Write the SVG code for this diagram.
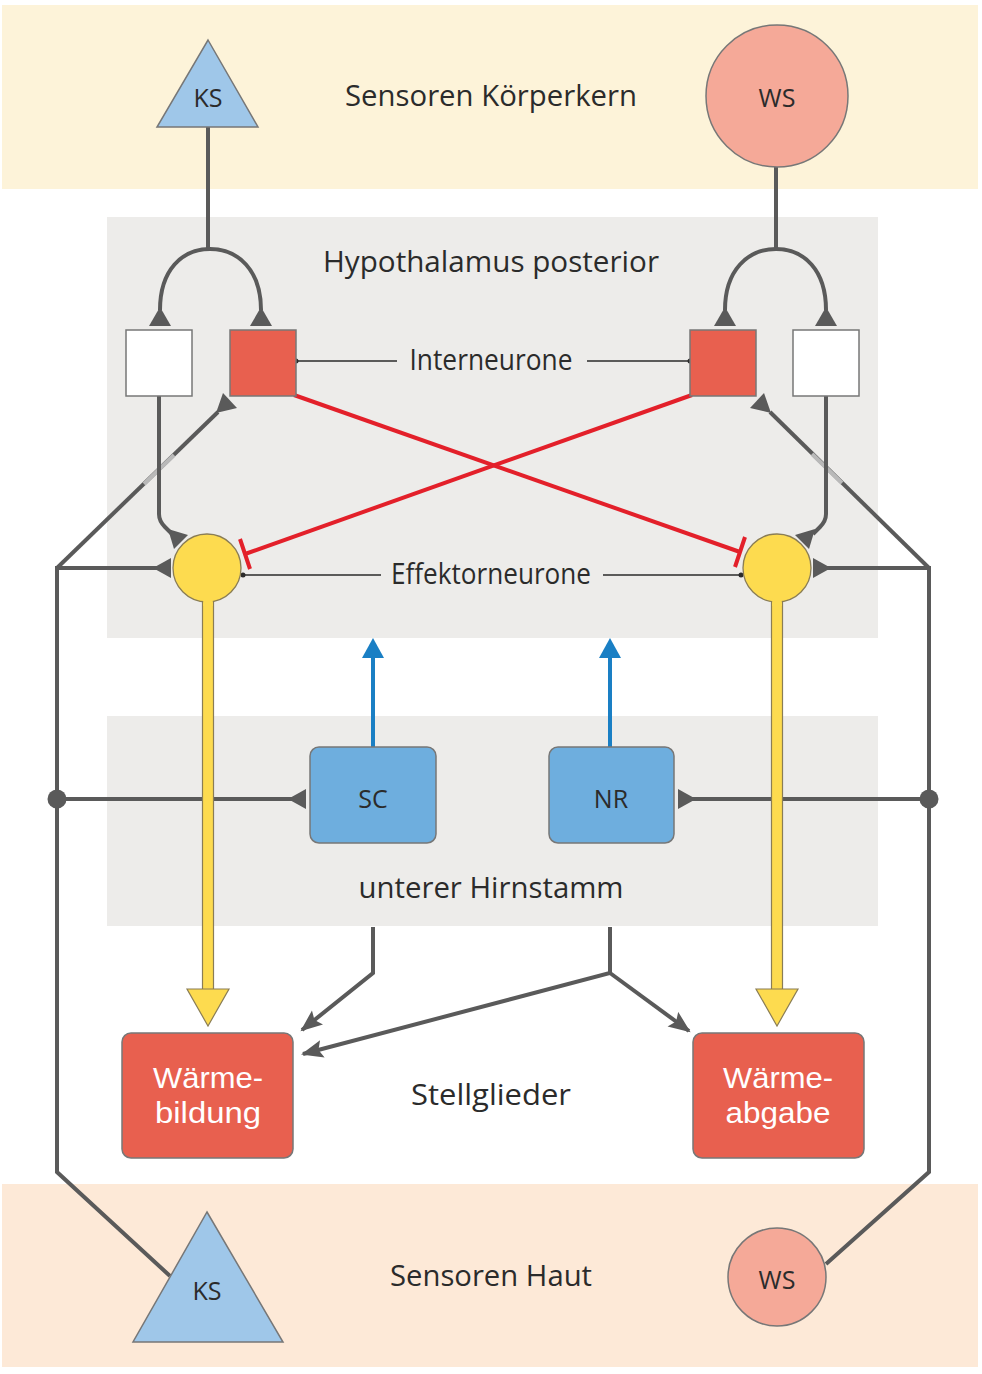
<svg xmlns="http://www.w3.org/2000/svg" width="982" height="1374" viewBox="0 0 982 1374">
<style>
text{font-family:"Open Sans","Liberation Sans",Arial,sans-serif;fill:#2b2b2b}
.lbl{font-size:29px;text-anchor:middle}
.nl{font-size:25px;text-anchor:middle}
.wt{font-family:"Liberation Sans",Arial,sans-serif;font-size:29px;text-anchor:middle;fill:#ffffff}
.g{stroke:#5a5a5a;stroke-width:4;fill:none}
.gt{fill:#5a5a5a}
.thin{stroke:#2b2b2b;stroke-width:1.5;fill:none}
.red{stroke:#e3202a;stroke-width:4;fill:none}
.blue{stroke:#1a7fc4;stroke-width:4;fill:none}
.ol{stroke:#777;stroke-width:1.5}
</style>
<defs>
<marker id="ah" markerUnits="userSpaceOnUse" markerWidth="24" markerHeight="20" refX="20" refY="9" orient="auto">
<path d="M0,0 L22,9 L0,18 L4,9 z" fill="#5a5a5a"/>
</marker>
</defs>
<g id="bands">
<rect x="2" y="5" width="976" height="184" fill="#fdf3d9"/>
<rect x="107" y="217" width="771" height="421" fill="#edecea"/>
<rect x="107" y="716" width="771" height="210" fill="#edecea"/>
<rect x="2" y="1184" width="976" height="183" fill="#fde9d7"/>
</g>
<g id="labels">
<text class="lbl" x="491" y="106" textLength="292" lengthAdjust="spacingAndGlyphs">Sensoren Körperkern</text>
<text class="lbl" x="491" y="272" textLength="336" lengthAdjust="spacingAndGlyphs">Hypothalamus posterior</text>
<text class="lbl" x="491" y="370" textLength="163" lengthAdjust="spacingAndGlyphs">Interneurone</text>
<text class="lbl" x="491" y="584" textLength="200" lengthAdjust="spacingAndGlyphs">Effektorneurone</text>
<text class="lbl" x="491" y="898" textLength="265" lengthAdjust="spacingAndGlyphs">unterer Hirnstamm</text>
<text class="lbl" x="491" y="1105" textLength="160" lengthAdjust="spacingAndGlyphs">Stellglieder</text>
<text class="lbl" x="491" y="1286" textLength="202" lengthAdjust="spacingAndGlyphs">Sensoren Haut</text>
</g>
<g id="connectors">
<path class="g" d="M208,127 V249"/>
<path class="g" d="M160,310 C160,270 182,249 210,249 C238,249 261,270 261,310"/>
<polygon class="gt" points="149,326 171,326 160,307"/>
<polygon class="gt" points="250,326 272,326 261,307"/>
<path class="g" d="M776,166 V249"/>
<path class="g" d="M725,310 C725,270 748,249 776,249 C804,249 826,270 826,310"/>
<polygon class="gt" points="714,326 736,326 725,307"/>
<polygon class="gt" points="815,326 837,326 826,307"/>
<path class="thin" d="M296,361 H397 M587,361 H690"/>
<circle cx="296" cy="361" r="2.5" fill="#2b2b2b"/>
<circle cx="690" cy="361" r="2.5" fill="#2b2b2b"/>
<path class="thin" d="M243,575 H381 M603,575 H741"/>
<circle cx="243" cy="575" r="2.5" fill="#2b2b2b"/>
<circle cx="741" cy="575" r="2.5" fill="#2b2b2b"/>
<path class="g" d="M170,1276 L57,1172 V568 H160"/>
<polygon class="gt" points="153,568 171,558 171,578"/>
<path class="g" d="M57,568 L218,412"/>
<path d="M144,484 L174,455" stroke="#b9b9b9" stroke-width="4"/>
<polygon class="gt" points="216,413 237,408 223,393"/>
<path class="g" d="M159,396 V514 Q159,521 165,527 L172,534"/>
<polygon class="gt" points="168,529 188,535 174,549"/>
<path class="g" d="M826,1264 L929,1172 V568 H824"/>
<polygon class="gt" points="831,568 813,558 813,578"/>
<path class="g" d="M929,568 L770,412"/>
<path d="M842,483 L812,454" stroke="#b9b9b9" stroke-width="4"/>
<polygon class="gt" points="771,413 750,408 764,393"/>
<path class="g" d="M826,396 V514 Q826,521 820,527 L813,534"/>
<polygon class="gt" points="815,529 809,549 795,535"/>
<path class="g" d="M57,799 H296"/>
<polygon class="gt" points="288,799 306,789 306,809"/>
<circle cx="57" cy="799" r="9.5" fill="#5a5a5a"/>
<path class="g" d="M929,799 H690"/>
<polygon class="gt" points="696,799 678,789 678,809"/>
<circle cx="929" cy="799" r="9.5" fill="#5a5a5a"/>
<path class="red" d="M294,395 L740,552"/>
<path class="red" d="M745,537 L735,567"/>
<path class="red" d="M692,395 L245,554"/>
<path class="red" d="M240,539 L250,569"/>
<path class="blue" d="M373,747 V654"/>
<polygon points="362,658 384,658 373,638" fill="#1a7fc4"/>
<path class="blue" d="M610,747 V654"/>
<polygon points="599,658 621,658 610,638" fill="#1a7fc4"/>
<rect x="202.5" y="598" width="11" height="393" fill="#fddb4f"/>
<path d="M202.5,600 V990 M213.5,600 V990" stroke="#8a7d55" stroke-width="1.2"/>
<polygon points="187,989 229,989 208,1026" fill="#fddb4f" stroke="#8a7d55" stroke-width="1.2"/>
<rect x="771.5" y="598" width="11" height="393" fill="#fddb4f"/>
<path d="M771.5,600 V990 M782.5,600 V990" stroke="#8a7d55" stroke-width="1.2"/>
<polygon points="756,989 798,989 777,1026" fill="#fddb4f" stroke="#8a7d55" stroke-width="1.2"/>
<path class="g" d="M373,927 V973 L302,1030" marker-end="url(#ah)"/>
<path class="g" d="M610,927 V973 L303,1054" marker-end="url(#ah)"/>
<path class="g" d="M610,973 L689,1031" marker-end="url(#ah)"/>
</g>
<g id="ks-top">
<polygon points="208,40 258,127 157,127" fill="#9fc7e9" class="ol"/>
<text class="nl" x="208" y="107">KS</text>
</g>
<g id="ws-top">
<circle cx="777" cy="96" r="71" fill="#f5a998" class="ol"/>
<text class="nl" x="777" y="107">WS</text>
</g>
<g id="inter-left-white"><rect x="126" y="330" width="66" height="66" fill="#ffffff" class="ol"/></g>
<g id="inter-left-red"><rect x="230" y="330" width="66" height="66" fill="#e8604f" class="ol"/></g>
<g id="inter-right-red"><rect x="690" y="330" width="66" height="66" fill="#e8604f" class="ol"/></g>
<g id="inter-right-white"><rect x="793" y="330" width="66" height="66" fill="#ffffff" class="ol"/></g>
<g id="eff-left">
<circle cx="207" cy="568" r="34" fill="#fddb4f" stroke="#8a7d55" stroke-width="1.3"/>
<rect x="203.2" y="598" width="9.6" height="8" fill="#fddb4f"/>
</g>
<g id="eff-right">
<circle cx="777" cy="568" r="34" fill="#fddb4f" stroke="#8a7d55" stroke-width="1.3"/>
<rect x="772.2" y="598" width="9.6" height="8" fill="#fddb4f"/>
</g>
<g id="sc">
<rect x="310" y="747" width="126" height="96" rx="9" fill="#6eaede" class="ol"/>
<text class="nl" x="373" y="808">SC</text>
</g>
<g id="nr">
<rect x="549" y="747" width="125" height="96" rx="9" fill="#6eaede" class="ol"/>
<text class="nl" x="611" y="808">NR</text>
</g>
<g id="waermebildung">
<rect x="122" y="1033" width="171" height="125" rx="9" fill="#e8604f" class="ol"/>
<text class="wt" x="208" y="1088" textLength="110" lengthAdjust="spacingAndGlyphs">Wärme-</text>
<text class="wt" x="208" y="1123" textLength="106" lengthAdjust="spacingAndGlyphs">bildung</text>
</g>
<g id="waermeabgabe">
<rect x="693" y="1033" width="171" height="125" rx="9" fill="#e8604f" class="ol"/>
<text class="wt" x="778" y="1088" textLength="110" lengthAdjust="spacingAndGlyphs">Wärme-</text>
<text class="wt" x="778" y="1123" textLength="105" lengthAdjust="spacingAndGlyphs">abgabe</text>
</g>
<g id="ks-bottom">
<polygon points="207,1212 283,1342 133,1342" fill="#9fc7e9" class="ol"/>
<text class="nl" x="207" y="1300">KS</text>
</g>
<g id="ws-bottom">
<circle cx="777" cy="1277" r="49" fill="#f5a998" class="ol"/>
<text class="nl" x="777" y="1289">WS</text>
</g>
</svg>
